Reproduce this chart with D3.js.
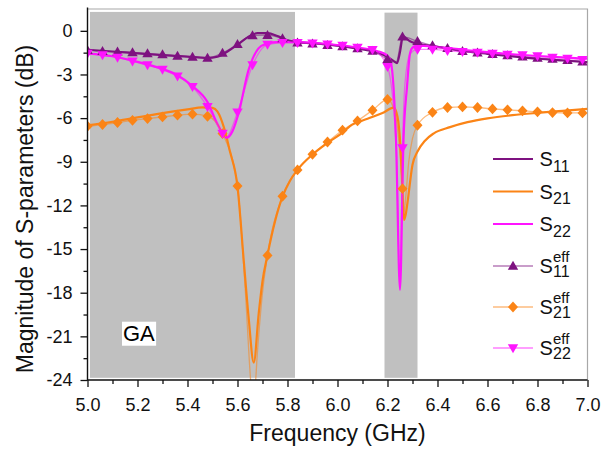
<!DOCTYPE html>
<html>
<head>
<meta charset="utf-8">
<script src="https://cdn.jsdelivr.net/npm/d3@7"></script>
<style>
  body { margin: 0; background: #fff; }
  svg { display: block; font-family: "Liberation Sans", Arial, Helvetica, sans-serif; }
</style>
</head>
<body>
<svg id="chart" width="603" height="449"></svg>
<script>
// ---- data (frequency in GHz, magnitude in dB) ----
const xTicks = [5.0, 5.2, 5.4, 5.6, 5.8, 6.0, 6.2, 6.4, 6.6, 6.8, 7.0];
const xMinorTicks = [5.1, 5.3, 5.5, 5.7, 5.9, 6.1, 6.3, 6.5, 6.7, 6.9];
const yTicks = [0, -3, -6, -9, -12, -15, -18, -21, -24];
const yMinorTicks = [-1.5, -4.5, -7.5, -10.5, -13.5, -16.5, -19.5, -22.5];

// shaded regions
const bands = [
  { f0: 5.01, f1: 5.83, top: 1.3, bottom: -23.85 },
  { f0: 6.188, f1: 6.32, top: 1.25, bottom: -23.85 }
];
const bandLabel = { text: "GA", f: 5.142, db: -21.3 };

// simulated S-parameters
const s11 = [
  [5.00, -1.30], [5.10, -1.42], [5.20, -1.55], [5.30, -1.67], [5.40, -1.78],
  [5.48, -1.86], [5.52, -1.78], [5.56, -1.42], [5.60, -0.95], [5.64, -0.45],
  [5.68, -0.16], [5.72, -0.16], [5.76, -0.36], [5.80, -0.66], [5.84, -0.78],
  [5.90, -0.85], [6.00, -1.02], [6.10, -1.28], [6.16, -1.48], [6.20, -1.80],
  [6.225, -2.08], [6.238, -2.22], [6.25, -1.45], [6.262, -0.36], [6.275, -0.52],
  [6.29, -0.72], [6.32, -0.88], [6.40, -1.10], [6.50, -1.38], [6.60, -1.58],
  [6.70, -1.76], [6.80, -1.92], [6.90, -2.04], [7.00, -2.15]
];
const s21 = [
  [5.00, -6.50], [5.10, -6.25], [5.20, -5.95], [5.30, -5.66], [5.40, -5.40],
  [5.46, -5.26], [5.50, -5.30], [5.52, -5.55], [5.545, -6.60], [5.57, -8.30],
  [5.60, -10.70], [5.625, -15.8], [5.645, -19.8], [5.665, -22.8], [5.685, -19.4],
  [5.70, -17.2], [5.72, -15.4], [5.75, -13.1], [5.78, -11.4], [5.81, -10.3],
  [5.84, -9.55], [5.90, -8.50], [5.96, -7.70], [6.02, -7.00], [6.05, -6.55],
  [6.12, -6.05], [6.18, -5.65], [6.225, -5.28], [6.24, -5.90], [6.252, -8.0],
  [6.26, -11.0], [6.266, -13.0], [6.272, -12.7], [6.28, -11.8], [6.30, -9.2],
  [6.32, -8.30], [6.35, -7.55], [6.384, -7.06], [6.45, -6.62], [6.52, -6.28],
  [6.60, -6.02], [6.70, -5.80], [6.80, -5.64], [6.90, -5.50], [7.00, -5.36]
];
const s22 = [
  [5.00, -1.55], [5.10, -1.75], [5.20, -2.13], [5.30, -2.62], [5.36, -3.05],
  [5.42, -3.80], [5.48, -4.90], [5.52, -6.40], [5.557, -7.35], [5.58, -6.90],
  [5.604, -5.68], [5.644, -2.70], [5.684, -1.21], [5.71, -0.92], [5.77, -0.76],
  [5.84, -0.78], [5.90, -0.83], [6.00, -0.98], [6.10, -1.20], [6.16, -1.40],
  [6.20, -1.70], [6.215, -2.30], [6.224, -3.85], [6.234, -7.50], [6.25, -17.8],
  [6.264, -7.50], [6.278, -3.85], [6.29, -1.56], [6.30, -1.15], [6.32, -1.02],
  [6.40, -1.12], [6.50, -1.30], [6.60, -1.47], [6.70, -1.61], [6.80, -1.73],
  [6.90, -1.83], [7.00, -1.92]
];

// effective S-parameters, sampled every 0.06 GHz from 5.00 to 6.98
const effFreq = d3.range(34).map(k => +(5 + 0.06 * k).toFixed(2));
const effS11 = [
  -1.33, -1.40, -1.44, -1.49, -1.56, -1.63, -1.72, -1.79, -1.86, -1.52,
  -0.92, -0.32, -0.30, -0.52, -0.82, -0.88, -0.98, -1.08, -1.22, -1.38,
  -1.95, -0.40, -0.72, -1.00, -1.20, -1.40, -1.50, -1.60, -1.70, -1.78,
  -1.86, -1.94, -2.02, -2.12
];
const effS21 = [
  -6.56, -6.44, -6.30, -6.15, -6.03, -5.92, -5.80, -5.73, -5.87, -7.06,
  -10.67, -25.5, -15.44, -11.37, -9.56, -8.49, -7.64, -6.83, -6.19, -5.46,
  -4.72, -10.85, -6.49, -5.60, -5.27, -5.23, -5.27, -5.37, -5.43, -5.50,
  -5.57, -5.62, -5.64, -5.64
];
const effS22 = [
  -1.56, -1.67, -1.83, -2.09, -2.36, -2.66, -3.12, -3.85, -5.23, -7.06,
  -5.60, -2.36, -0.95, -0.82, -0.82, -0.85, -0.92, -1.02, -1.15, -1.30,
  -2.48, -8.05, -1.28, -1.28, -1.37, -1.44, -1.49, -1.56, -1.63, -1.67,
  -1.74, -1.83, -1.90, -2.00
];
// additional samples of the effective curves around the resonances
const effS11Fine = [[6.235, -2.15]];
const effS21Fine = [
  [5.63, -17.5], [5.655, -24.6], [5.667, -25.2], [5.68, -22.0], [5.70, -18.0],
  [6.23, -5.60], [6.25, -8.50], [6.265, -12.6], [6.272, -11.6], [6.285, -9.0], [6.30, -7.40]
];
const effS22Fine = [[5.553, -7.35], [6.235, -8.0], [6.25, -17.6], [6.27, -3.6], [6.29, -1.60]];

const colors = { s11: "#7e1280", s21: "#fb8416", s22: "#ff14ff" };

// ---- layout ----
const svg = d3.select("#chart");
const plot = { left: 87.5, right: 587.5, top: 9, bottom: 380 };
const x = d3.scaleLinear().domain([5, 7]).range([plot.left, plot.right]);
const y = d3.scaleLinear().domain([-24, 1.5]).range([plot.bottom, plot.top]);

svg.append("defs").append("clipPath").attr("id", "plot-clip")
  .append("rect")
  .attr("x", plot.left).attr("y", plot.top)
  .attr("width", plot.right - plot.left).attr("height", plot.bottom - plot.top);

// shaded bands
svg.append("g").selectAll("rect").data(bands).join("rect")
  .attr("x", d => x(d.f0)).attr("width", d => x(d.f1) - x(d.f0))
  .attr("y", d => y(d.top)).attr("height", d => y(d.bottom) - y(d.top))
  .attr("fill", "#c0c0c0");

// band label on white box
const gaG = svg.append("g");
const gaBox = gaG.append("rect").attr("fill", "#fff");
const gaText = gaG.append("text")
  .attr("x", x(bandLabel.f)).attr("y", y(bandLabel.db))
  .attr("font-size", 22).attr("fill", "#000")
  .text(bandLabel.text);
const bb = gaText.node().getBBox();
gaBox.attr("x", bb.x - 1).attr("y", bb.y + 1).attr("width", bb.width + 2).attr("height", bb.height - 1);

// frame (top & right)
svg.append("path")
  .attr("d", `M${plot.left},${plot.top}H${plot.right}V${plot.bottom}`)
  .attr("fill", "none").attr("stroke", "#a8a8a8").attr("stroke-width", 1.2);

// ---- curves ----
const curves = svg.append("g").attr("clip-path", "url(#plot-clip)");
const line = d3.line().x(d => x(d[0])).y(d => y(d[1])).curve(d3.curveMonotoneX);

[[s11, colors.s11], [s21, colors.s21], [s22, colors.s22]].forEach(([data, c]) => {
  curves.append("path").datum(data)
    .attr("d", line).attr("fill", "none")
    .attr("stroke", c).attr("stroke-width", 2.2).attr("stroke-linejoin", "round");
});

const effSeries = [
  { values: effS11, fine: effS11Fine, color: colors.s11, symbol: "up" },
  { values: effS21, fine: effS21Fine, color: colors.s21, symbol: "diamond" },
  { values: effS22, fine: effS22Fine, color: colors.s22, symbol: "down" }
];

function markerPath(type) {
  if (type === "up") return "M0,-5.2L5.2,3.8L-5.2,3.8Z";
  if (type === "down") return "M0,5.2L5.2,-3.8L-5.2,-3.8Z";
  return "M0,-5.4L5,0L0,5.4L-5,0Z";
}

effSeries.forEach(s => {
  const pts = effFreq.map((f, i) => [f, s.values[i]]).concat(s.fine)
    .sort((a, b) => a[0] - b[0]);
  curves.append("path").datum(pts)
    .attr("d", line).attr("fill", "none")
    .attr("stroke", s.color).attr("stroke-opacity", 0.55).attr("stroke-width", 1.3);
});
effSeries.forEach(s => {
  curves.append("g").selectAll("path")
    .data(effFreq.map((f, i) => [f, s.values[i]]))
    .join("path")
    .attr("transform", d => `translate(${x(d[0])},${y(d[1])})`)
    .attr("d", markerPath(s.symbol))
    .attr("fill", s.color);
});

// ---- axes ----
const xAxis = svg.append("g").attr("transform", `translate(0,${plot.bottom})`)
  .call(d3.axisBottom(x).tickValues(xTicks).tickSize(7).tickPadding(11)
    .tickFormat(d3.format(".1f")));
svg.append("g").attr("transform", `translate(0,${plot.bottom})`)
  .call(d3.axisBottom(x).tickValues(xMinorTicks).tickSize(4).tickFormat(""));
const yAxis = svg.append("g").attr("transform", `translate(${plot.left},0)`)
  .call(d3.axisLeft(y).tickValues(yTicks).tickSize(7).tickPadding(8)
    .tickFormat(d => String(d)));
svg.append("g").attr("transform", `translate(${plot.left},0)`)
  .call(d3.axisLeft(y).tickValues(yMinorTicks).tickSize(4).tickFormat(""));

svg.selectAll(".domain").remove();
svg.selectAll(".tick line").attr("stroke", "#111").attr("stroke-width", 1.3);
svg.selectAll(".tick text").attr("font-size", 18).attr("fill", "#111")
  .attr("font-family", "Liberation Sans, Arial, sans-serif");

svg.append("path")
  .attr("d", `M${plot.left},${plot.top - 1.5}V${plot.bottom}H${plot.right}`)
  .attr("fill", "none").attr("stroke", "#111").attr("stroke-width", 1.4);

// axis titles
svg.append("text")
  .attr("x", (plot.left + plot.right) / 2).attr("y", 441)
  .attr("text-anchor", "middle").attr("font-size", 23).attr("fill", "#111")
  .text("Frequency (GHz)");
svg.append("text")
  .attr("transform", `translate(33,209) rotate(-90)`)
  .attr("text-anchor", "middle").attr("font-size", 23).attr("fill", "#111")
  .text("Magnitude of S-parameters (dB)");

// ---- legend ----
const legendItems = [
  { sub: "11", sup: null, color: colors.s11, symbol: null, ly: 159 },
  { sub: "21", sup: null, color: colors.s21, symbol: null, ly: 191.5 },
  { sub: "22", sup: null, color: colors.s22, symbol: null, ly: 224 },
  { sub: "11", sup: "eff", color: colors.s11, symbol: "up", ly: 266 },
  { sub: "21", sup: "eff", color: colors.s21, symbol: "diamond", ly: 307 },
  { sub: "22", sup: "eff", color: colors.s22, symbol: "down", ly: 348 }
];
const lg = svg.append("g");
legendItems.forEach(it => {
  const g = lg.append("g").attr("transform", `translate(0,${it.ly})`);
  g.append("line").attr("x1", 493).attr("x2", 533)
    .attr("stroke", it.color)
    .attr("stroke-width", it.symbol ? 1.3 : 2.2)
    .attr("stroke-opacity", it.symbol ? 0.55 : 1);
  if (it.symbol) {
    g.append("path").attr("transform", "translate(513,0)")
      .attr("d", markerPath(it.symbol)).attr("fill", it.color);
  }
  g.append("text").attr("x", 539.5).attr("y", 7).attr("font-size", 20).attr("fill", "#111").text("S");
  if (it.sup) {
    g.append("text").attr("x", 553).attr("y", -4.5).attr("font-size", 15).attr("fill", "#111").text(it.sup);
    g.append("text").attr("x", 553).attr("y", 11).attr("font-size", 16).attr("fill", "#111").text(it.sub);
  } else {
    g.append("text").attr("x", 553).attr("y", 12.5).attr("font-size", 16).attr("fill", "#111").text(it.sub);
  }
});
</script>
</body>
</html>
